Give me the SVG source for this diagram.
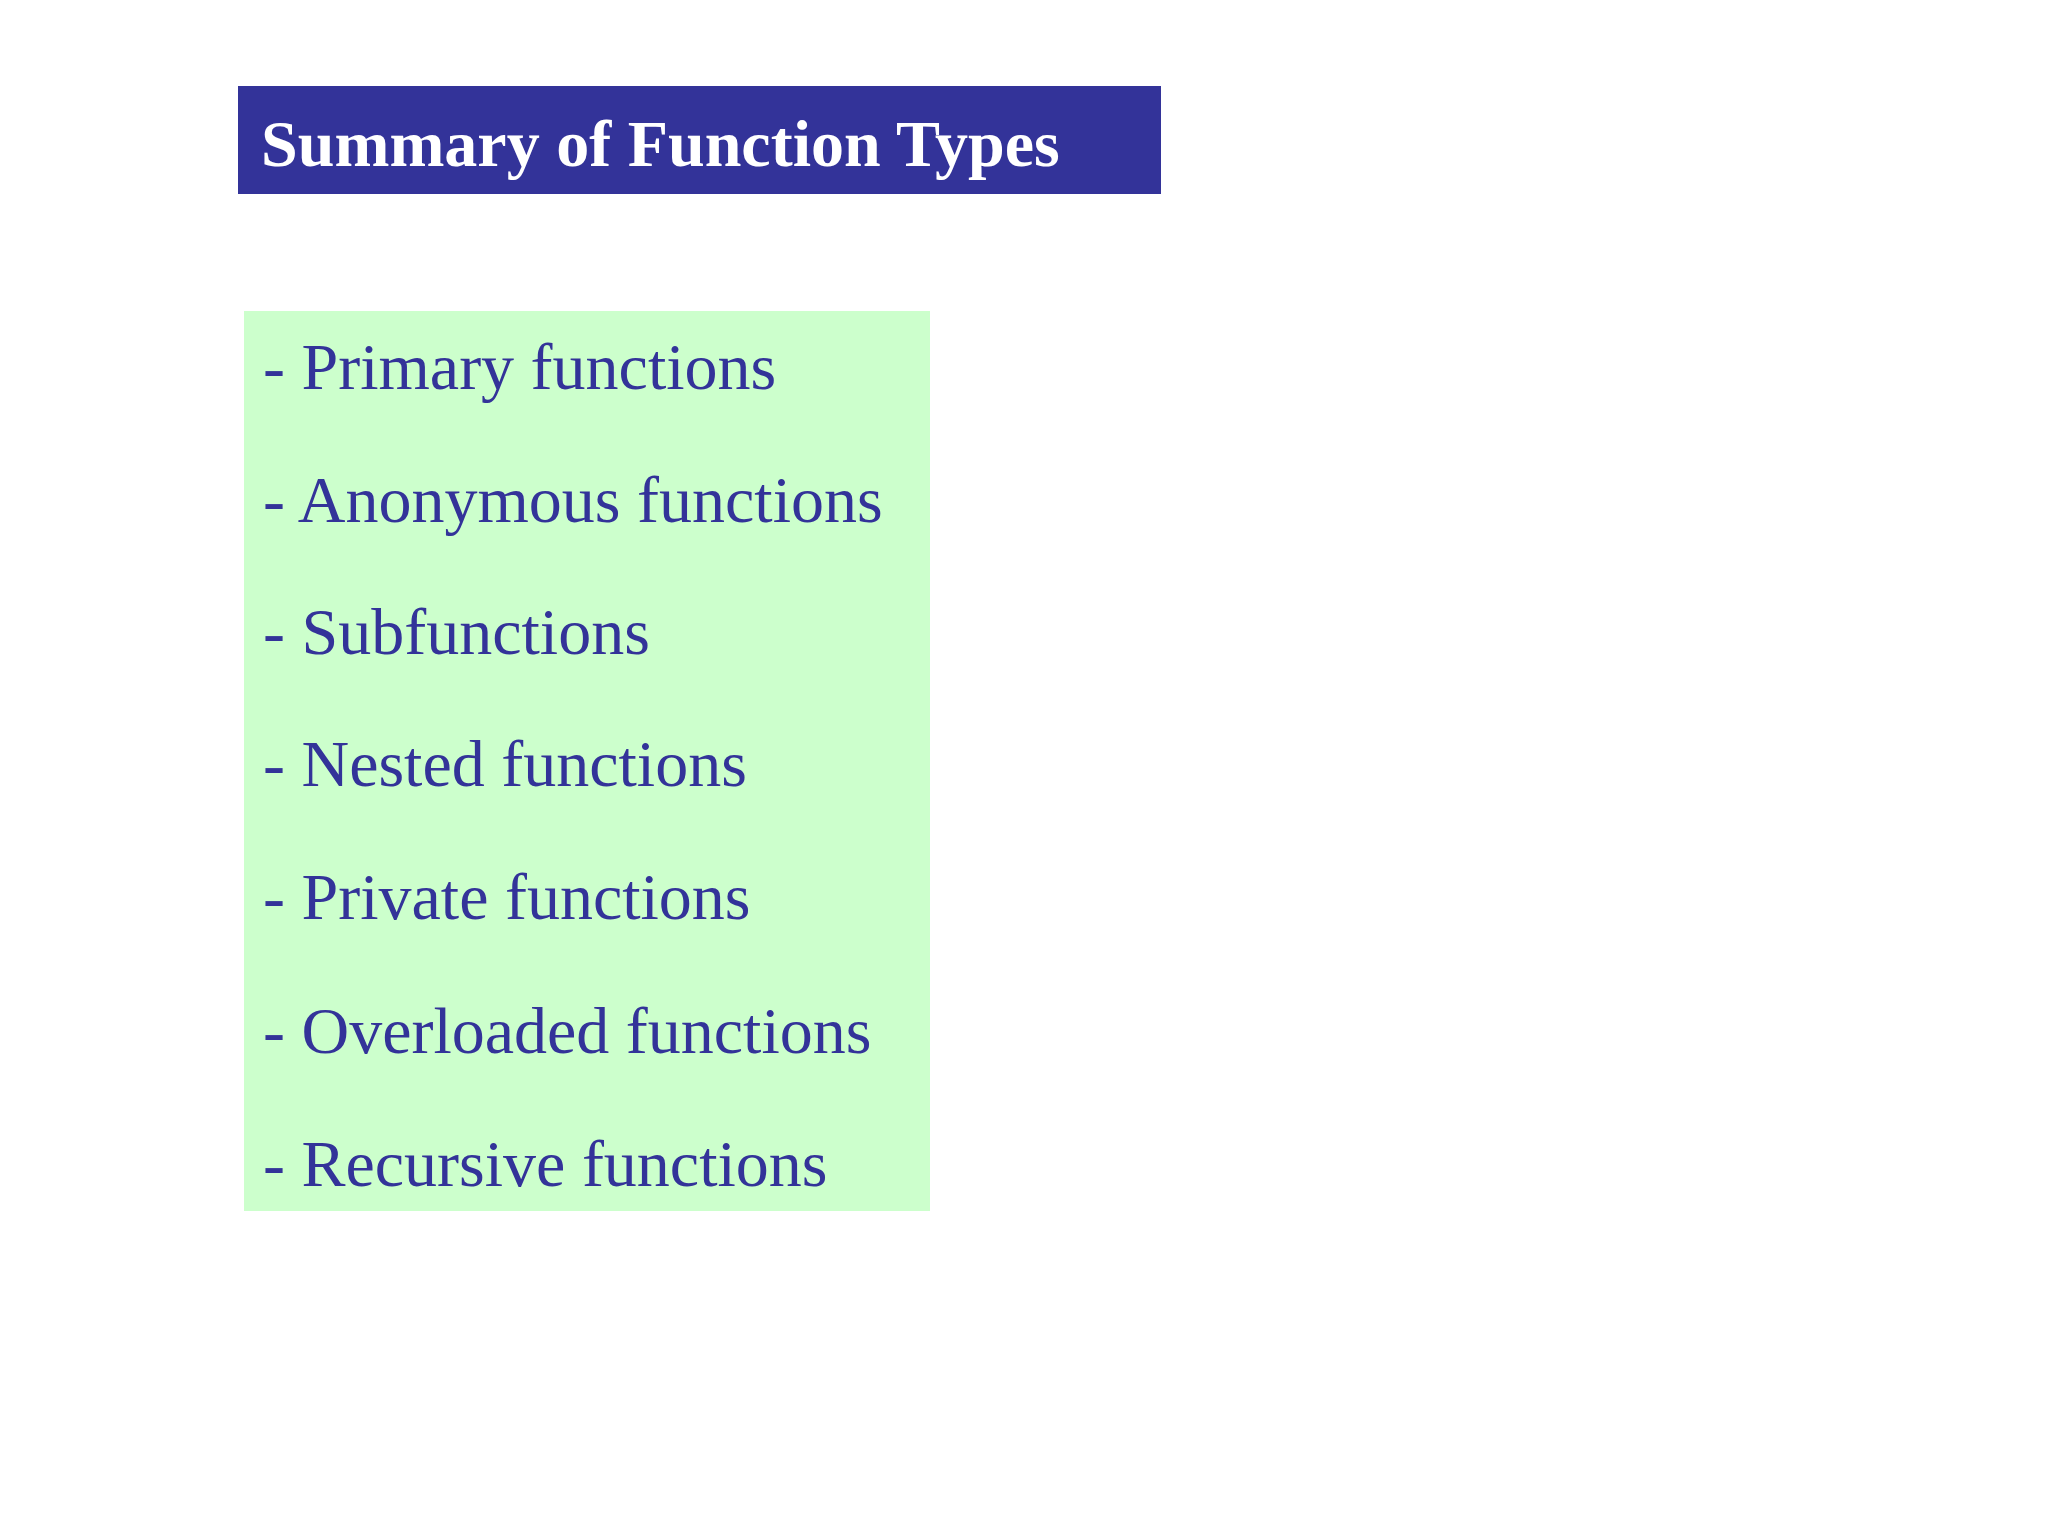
<svg xmlns="http://www.w3.org/2000/svg" width="2048" height="1536" viewBox="0 0 2048 1536">
<style>
.item{font-family:"Liberation Serif",serif;font-size:66px;fill:#333399}
</style>
<rect width="2048" height="1536" fill="#fff"/>
<g id="title">
<rect x="238" y="86" width="923" height="108" fill="#333399"/>
<text x="261" y="166" font-family="Liberation Serif,serif" font-weight="bold" font-size="66" fill="#fff">Summary of Function Types</text>
</g>
<g id="list">
<rect x="244" y="311" width="686" height="900" fill="#CCFFCC"/>
<text class="item" x="263" y="389">- Primary functions</text>
<text class="item" x="263" y="522">- Anonymous functions</text>
<text class="item" x="263" y="654">- Subfunctions</text>
<text class="item" x="263" y="786">- Nested functions</text>
<text class="item" x="263" y="919">- Private functions</text>
<text class="item" x="263" y="1053">- Overloaded functions</text>
<text class="item" x="263" y="1186">- Recursive functions</text>
</g>
</svg>
